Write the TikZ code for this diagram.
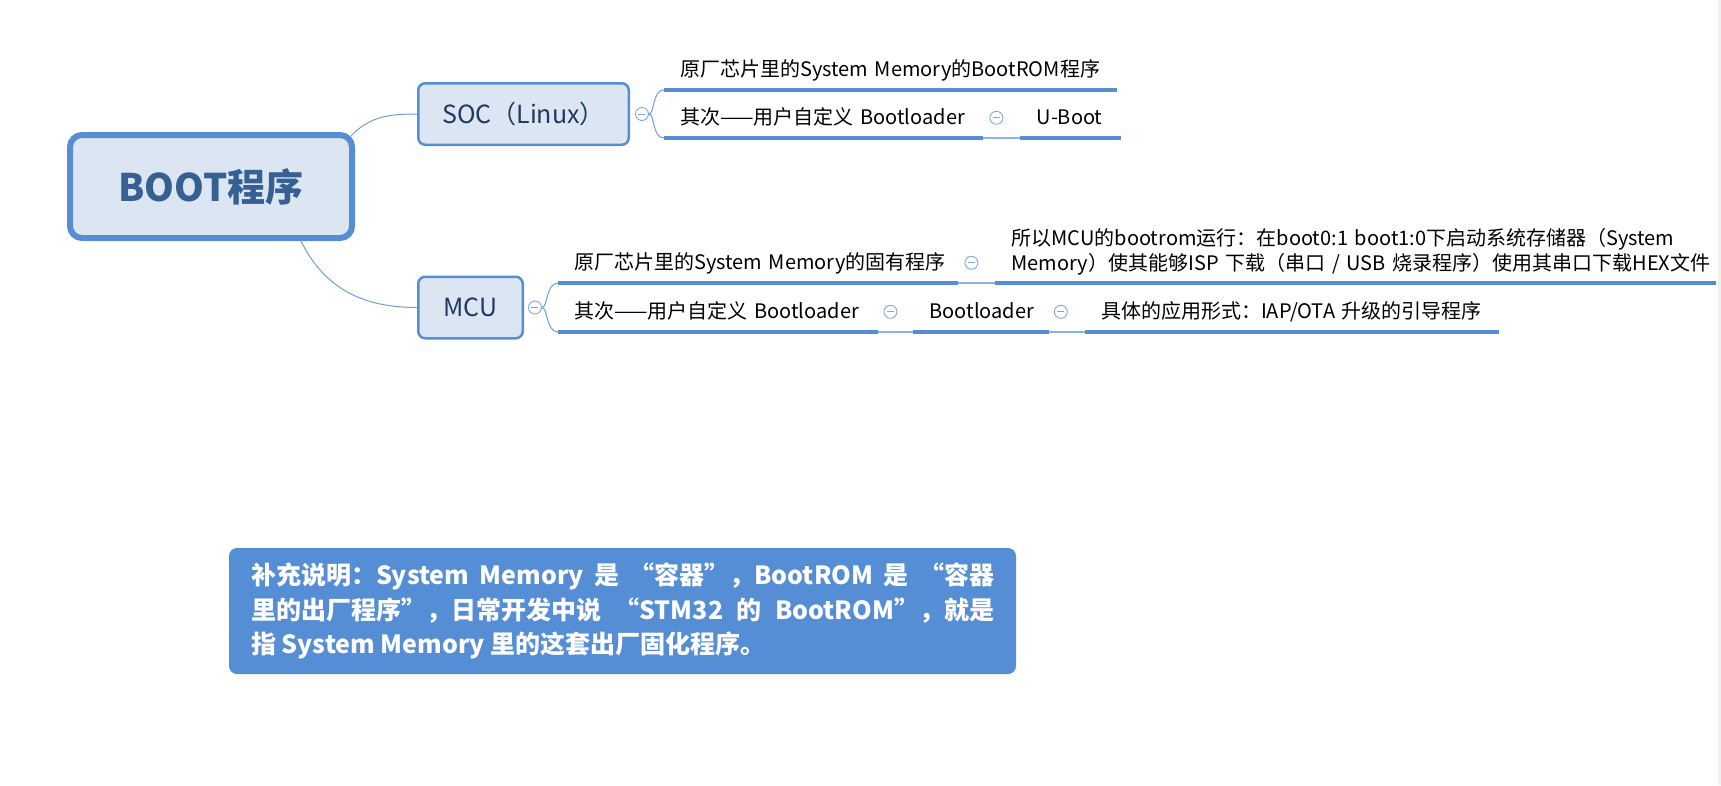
\documentclass[tikz,border=0pt]{standalone}
\usepackage{fontspec}
\setmainfont{Noto Sans CJK SC}
\usetikzlibrary{positioning,backgrounds}

\definecolor{boxfill}{HTML}{DCE6F2}
\definecolor{boxline}{HTML}{558ED5}
\definecolor{rootText}{HTML}{376092}
\definecolor{mainText}{HTML}{1F3A60}
\definecolor{linkline}{HTML}{6E9DDB}
\definecolor{chainline}{HTML}{8DB3E2}
\definecolor{foldline}{HTML}{7FA8DE}

\tikzset{
  rootbox/.style={draw=boxline, fill=boxfill, line width=6pt, rounded corners=12pt,
    minimum width=282pt, minimum height=103pt, text=rootText,
    font=\fontsize{38}{42}\selectfont\bfseries},
  mainbox/.style={draw=boxline, fill=boxfill, line width=2.5pt, rounded corners=7pt,
    minimum height=61.5pt, inner xsep=0pt, text=mainText,
    font=\fontsize{25}{28}\selectfont},
  topic/.style={inner xsep=16pt, inner ysep=8pt, text height=15pt, text depth=5pt,
    align=left, font=\fontsize{20}{25}\selectfont},
  topictwo/.style={inner xsep=16pt, inner ysep=8pt, align=left,
    font=\fontsize{20}{25}\selectfont},
  foldbtn/.style={circle, draw=foldline, fill=white, line width=0.9pt,
    minimum size=13pt, inner sep=0pt,
    path picture={\draw[foldline, line width=0.9pt]
      ([xshift=-3.5pt]path picture bounding box.center) --
      ([xshift=3.5pt]path picture bounding box.center);}},
  link/.style={draw=linkline, line width=1pt},
  uline/.style={draw=boxline, line width=4pt},
  chain/.style={draw=chainline, line width=1.5pt},
  note/.style={fill=boxline, rounded corners=8pt, text=white, inner sep=0pt,
    minimum width=787pt, minimum height=126pt, text width=743pt, align=justify,
    font=\fontsize{25}{34.5}\selectfont\bfseries}
}

\begin{document}
\begin{tikzpicture}[x=1pt,y=-1pt]
  \useasboundingbox (0,0) rectangle (1721,785);
  \fill[black!6] (1718,0) rectangle (1721,785);

  % central topic and its two branches
  \node[rootbox] (root) at (211,186.5) {BOOT程序};
  \node[mainbox, minimum width=210.5pt] (soc) at (523.5,114) {SOC（Linux）};
  \node[mainbox, minimum width=104.5pt] (mcu) at (470.5,307.5) {MCU};
  \node[foldbtn, right=5pt of soc] (socFold) {};
  \node[foldbtn, right=4pt of mcu] (mcuFold) {};

  % SOC subtopics
  \node[topic, text width=421pt, anchor=south west] (socA) at (664,90) {原厂芯片里的System Memory的BootROM程序};
  \node[topic, text width=287pt, anchor=south west] (socB) at (664,138) {其次——用户自定义 Bootloader};
  \node[topic, text width=68pt, right=37pt of socB] (uboot) {U-Boot};
  \node[foldbtn] (socBFold) at ([shift={(13,-2)}]socB.east) {};

  % MCU subtopics
  \node[topic, text width=368pt, anchor=south west] (mcuA) at (558,283) {\mbox{原厂芯片里的System Memory的固有程序}};
  \node[topictwo, text width=688pt, anchor=south west] (mcuAdesc) at ([xshift=37pt]mcuA.south east)
    {所以MCU的bootrom运行：在boot0:1 boot1:0下启动系统存储器（System\\Memory）使其能够ISP 下载（串口 / USB 烧录程序）使用其串口下载HEX文件};
  \node[foldbtn] (mcuAFold) at ([shift={(13,-2)}]mcuA.east) {};
  \node[topic, text width=288pt, anchor=south west] (mcuB) at (558,332) {其次——用户自定义 Bootloader};
  \node[topic, text width=103pt, right=35pt of mcuB] (boot) {Bootloader};
  \node[topic, text width=382pt, right=36pt of boot] (iap) {具体的应用形式：IAP/OTA 升级的引导程序};
  \node[foldbtn] (mcuBFold) at ([shift={(12,-2)}]mcuB.east) {};
  \node[foldbtn] (bootFold) at ([shift={(12,-2)}]boot.east) {};

  \foreach \n in {socA,socB,uboot,mcuA,mcuAdesc,mcuB,boot,iap}
    \draw[uline] (\n.south west) -- (\n.south east);

  \begin{scope}[on background layer]
    \draw[link] ([shift={(-4,4)}]root.north east) .. controls (370,116) and (390,114) .. (soc.west);
    \draw[link] ([xshift=90pt]root.south) .. controls (325,290) and (365,307.5) .. (mcu.west);
    \draw[link] (socFold.east) .. controls +(6,0) and +(-12,0) .. (socA.south west);
    \draw[link] (socFold.east) .. controls +(6,0) and +(-12,0) .. (socB.south west);
    \draw[link] (mcuFold.east) .. controls +(6,0) and +(-12,0) .. (mcuA.south west);
    \draw[link] (mcuFold.east) .. controls +(6,0) and +(-12,0) .. (mcuB.south west);
  \end{scope}
  \draw[chain] (socB.south east) -- (uboot.south west);
  \draw[chain] (mcuA.south east) -- (mcuAdesc.south west);
  \draw[chain] (mcuB.south east) -- (boot.south west);
  \draw[chain] (boot.south east) -- (iap.south west);

  % remark box
  \node[note] (remark) at (622.5,611) {补充说明：System Memory 是 “容器”，BootROM 是 “容器\linebreak 里的出厂程序”，日常开发中说 “STM32 的 BootROM”，就是\linebreak 指 System Memory 里的这套出厂固化程序。};
\end{tikzpicture}
\end{document}
